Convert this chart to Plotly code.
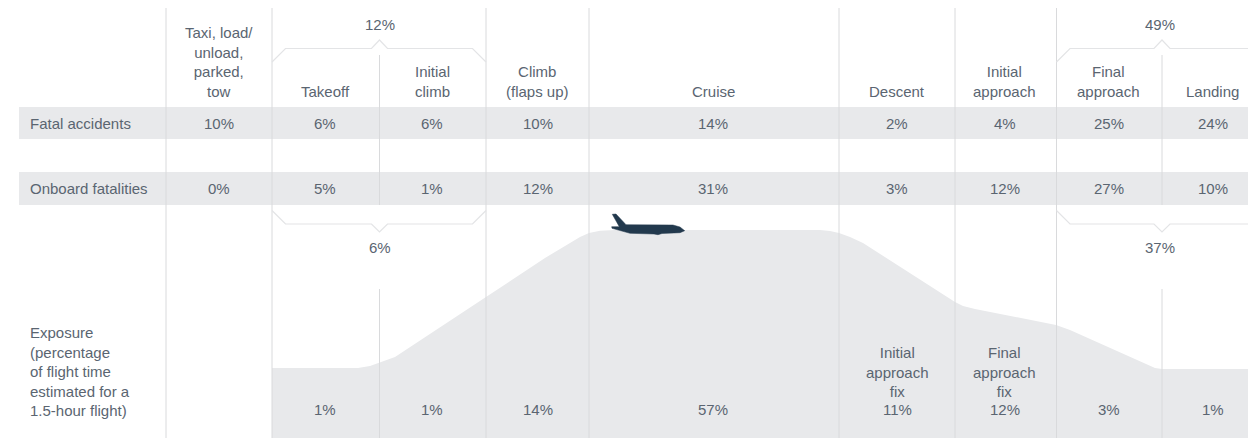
import plotly.graph_objects as go

# ---- data ----
phases = ["Taxi, load/<br>unload,<br>parked,<br>tow", "Takeoff", "Initial<br>climb", "Climb<br>(flaps up)", "Cruise",
          "Descent", "Initial<br>approach", "Final<br>approach", "Landing"]
fatal_accidents = [10, 6, 6, 10, 14, 2, 4, 25, 24]
onboard_fatalities = [0, 5, 1, 12, 31, 3, 12, 27, 10]
exposure = [None, 1, 1, 14, 57, 11, 12, 3, 1]
exposure_notes = ["", "", "", "", "", "Initial<br>approach<br>fix", "Final<br>approach<br>fix", "", ""]
row_labels = ["Fatal accidents", "Onboard fatalities",
              "Exposure<br>(percentage<br>of flight time<br>estimated for a<br>1.5-hour flight)"]
group_top = ["12%", "49%"]
group_bottom = ["6%", "37%"]

# flight profile (pixel scale of the page)
profile_x = [272, 340, 358, 370, 379, 395, 486, 514, 545, 560, 570, 580, 589, 600, 615, 820, 830, 839, 850, 863, 955, 963,
             975, 1056, 1070, 1147, 1155, 1162, 1248]
profile_y = [368, 368, 368, 366, 363, 357, 297, 278.5, 258, 249, 243, 237, 233, 230.7, 230, 230, 231, 233, 237, 243, 302, 306,
             309, 325, 330, 365, 368, 369, 369]

plane_x = [612.3, 616, 626, 673, 680, 684.7, 680, 662, 658, 654, 630, 612, 611.7, 619.3]
plane_y = [214.3, 214, 224.7, 225, 227, 230.7, 232.7, 233.5, 234.7, 234, 233.3, 228.3, 226.7, 226.7]

# ---- layout of the table ----
W, H = 1248, 438
centers = [218.5, 325, 432, 537.5, 713, 897, 1004.5, 1108.5, 1212.5]
band_rows = [(107, 139), (172, 205)]
TXT = "#5a6571"
FILL = "#e8e9eb"
LINE = "#d9dadc"
BR = "#e3e4e6"
FONT = dict(family="Liberation Sans", size=15, color=TXT)

fig = go.Figure()

# profile area
fig.add_trace(go.Scatter(x=[profile_x[0]] + profile_x + [profile_x[-1]],
                         y=[H] + profile_y + [H], mode="lines", line=dict(width=0),
                         fill="toself", fillcolor=FILL, hoverinfo="skip", showlegend=False))

# plane
fig.add_trace(go.Scatter(x=plane_x + plane_x[:1], y=plane_y + plane_y[:1], mode="lines",
                         line=dict(width=0.5, color="#22394d"), fill="toself", fillcolor="#22394d",
                         hoverinfo="skip", showlegend=False))

# grey rows
for y0, y1 in band_rows:
    fig.add_shape(type="rect", x0=19, x1=W, y0=y0, y1=y1, fillcolor=FILL, line_width=0, layer="below")

# full-height verticals
for e in [166, 272, 486, 589, 839, 955, 1056.5]:
    fig.add_trace(go.Scatter(x=[e, e], y=[8, H], mode="lines", line=dict(color=LINE, width=1),
                             hoverinfo="skip", showlegend=False))
# split verticals
for e in [379.5, 1162]:
    for a, b in [(55, 205), (289, H)]:
        fig.add_trace(go.Scatter(x=[e, e], y=[a, b], mode="lines", line=dict(color=LINE, width=1),
                                 hoverinfo="skip", showlegend=False))

# brackets
def bracket(x0, xm, x1, y_c, y_f, y_a):
    xs = [x0, x0 + 13.5, xm - 8, xm, xm + 8, x1 - 13.5, x1]
    ys = [y_c, y_f, y_f, y_a, y_f, y_f, y_c]
    fig.add_trace(go.Scatter(x=xs, y=ys, mode="lines", line=dict(color=BR, width=1.2),
                             hoverinfo="skip", showlegend=False))

bracket(272, 379.5, 486, 62, 48.5, 40)
bracket(272, 379.5, 486, 210.5, 224, 232)
bracket(1056.5, 1162, 1267.5, 62, 48.5, 40)
bracket(1056.5, 1162, 1267.5, 210.5, 224, 232)

def note(x, y, text, anchor="center", yanchor="middle"):
    fig.add_annotation(x=x, y=y, text=text, showarrow=False, xanchor=anchor, yanchor=yanchor,
                       font=FONT, align=anchor, xref="x", yref="y",
                       borderpad=0, borderwidth=0)

for i, c in enumerate(centers):
    note(c, 99.5, phases[i], yanchor="bottom")
    note(c, 123, f"{fatal_accidents[i]}%")
    note(c, 188, f"{onboard_fatalities[i]}%")
    if exposure[i] is not None:
        note(c, 409, f"{exposure[i]}%")
    if exposure_notes[i]:
        note(c, 400, exposure_notes[i], yanchor="bottom")

note(30, 123, row_labels[0], "left")
note(30, 188, row_labels[1], "left")
note(30, 419, row_labels[2], "left", "bottom")
for x, top, bottom in zip([379.5, 1159.5], group_top, group_bottom):
    note(x, 24, top)
    note(x, 247, bottom)

fig.update_layout(width=W, height=H, margin=dict(l=0, r=0, t=0, b=0), paper_bgcolor="white",
                  plot_bgcolor="white", showlegend=False,
                  xaxis=dict(range=[0, W], visible=False, fixedrange=True),
                  yaxis=dict(range=[H, 0], visible=False, fixedrange=True))
fig.write_html("out.html", config=dict(displayModeBar=False),
               post_script="document.body.style.margin='0';document.documentElement.style.overflow='hidden';")
